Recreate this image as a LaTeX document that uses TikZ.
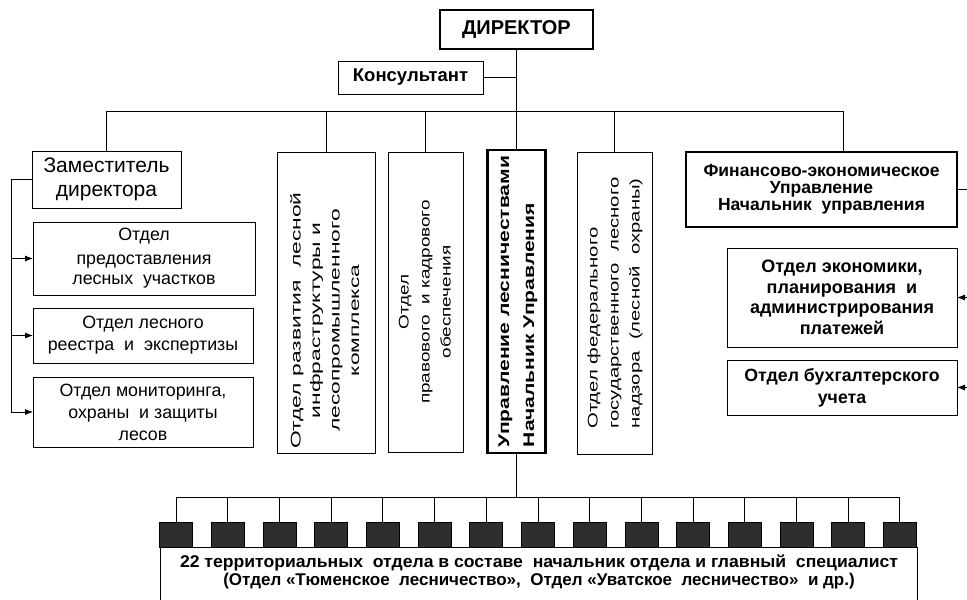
\documentclass[tikz,border=0pt]{standalone}
\usepackage{fontspec}
\setmainfont{Liberation Sans}
\usetikzlibrary{arrows.meta}
\newcommand\myfs[2]{\fontsize{#1}{#2}\selectfont}
% #1 stretch, #2 column spec, #3 shift towards bottom, #4 text
\newcommand\vtext[4]{\rotatebox{90}{\scalebox{#1}[1]{\begin{tabular}{@{}#2@{}}#4\end{tabular}}\hspace*{#3}}}
\begin{document}
\begin{tikzpicture}[x=1pt,y=-1pt,
  box/.style={draw, line width=0.8pt, inner sep=0pt, outer sep=0pt, align=center},
  thickbox/.style={box, line width=2.5pt},
  conn/.style={line width=0.8pt},
  arr/.style={conn, -{Latex[length=8pt,width=6pt]}},
  sq/.style={draw, line width=0.6pt, fill=black!82, minimum width=33pt, minimum height=25pt, inner sep=0pt, outer sep=0pt}]
\useasboundingbox (0,0) rectangle (967,600);
\clip (0,0) rectangle (967,600);

% top level
\node[thickbox, minimum width=153pt, minimum height=39pt, font=\myfs{20}{22}\bfseries] (dir) at (516.5,29.5) {ДИРЕКТОР};
\node[box, minimum width=145pt, minimum height=33pt, font=\myfs{18.5}{20}\bfseries] (kons) at (410.5,77.5) {Консультант};

% second level
\node[box, line width=1pt, minimum width=149pt, minimum height=57pt, font=\myfs{21}{24}] (zam) at (106.5,179.5) {Заместитель\\директора};

\node[box, minimum width=98pt, minimum height=301pt, font=\myfs{14}{19.5}] (v1) at (326,302.5)
  {\vtext{1.63}{c}{36pt}{Отдел развития\ \ лесной\\инфраструктуры и\\лесопромышленного\\комплекса}};
\node[box, minimum width=75pt, minimum height=300pt, font=\myfs{14}{21}] (v2) at (425.5,302)
  {\vtext{1.35}{c}{0pt}{Отдел\\правового\ \ и кадрового\\обеспечения}};
\node[box, line width=2.2pt, minimum width=58pt, minimum height=303pt, font=\myfs{15.5}{25}\bfseries] (v3) at (516.5,301.5)
  {\vtext{1.36}{l}{0pt}{Управление лесничествами\\Начальник Управления}};
\node[box, minimum width=75pt, minimum height=302pt, font=\myfs{14}{21}] (v4) at (614.5,303)
  {\vtext{1.45}{l}{0pt}{Отдел федерального\\государственного\ \ лесного\\надзора\ \ (лесной\ \ охраны)}};

\node[box, line width=2pt, minimum width=271pt, minimum height=75pt, font=\myfs{17.5}{17}\bfseries] (fin) at (821.5,189.5)
  {Финансово-экономическое\\Управление\\Начальник\ \ управления};

% left departments
\node[box, minimum width=222pt, minimum height=73pt, font=\myfs{17.8}{20}] (l1) at (144,258.5) {Отдел\\[4pt]предоставления\\лесных\ \ участков};
\node[box, minimum width=220pt, minimum height=55pt, font=\myfs{17.8}{22}] (l2) at (143,335.5) {Отдел лесного\\реестра\ \ и\ \ экспертизы};
\node[box, minimum width=220pt, minimum height=70pt, font=\myfs{17.8}{22}] (l3) at (143,412) {Отдел мониторинга,\\охраны\ \ и защиты\\лесов};

% right departments
\node[box, minimum width=230pt, minimum height=99pt, font=\myfs{18}{20.5}\bfseries] (r1) at (842,297.5) {Отдел экономики,\\планирования\ \ и\\администрирования\\платежей};
\node[box, minimum width=230pt, minimum height=55pt, font=\myfs{17.7}{22}\bfseries] (r2) at (842,387.5) {Отдел бухгалтерского\\учета};

% bottom
\node[box, minimum width=757pt, minimum height=73pt] (bot) at (538.5,583.5) {};
\node[inner sep=0pt, align=center, font=\myfs{17}{18}\bfseries] (bt) at (539,572)
  {\scalebox{1.035}[1]{22 территориальных\ \ отдела в составе\ \ начальник отдела и главный\ \ специалист}\\
   {(Отдел «Тюменское\ \ лесничество»,\ \ Отдел «Уватское\ \ лесничество»\ \ и др.)}};
\foreach \k in {0,...,14} \node[sq] (s\k) at ({176+51.7*\k},534.5) {};

% connectors: top
\coordinate (tl) at (106.5,111);
\coordinate (tr) at (843,111);
\draw[conn] (tl) -- (tr);
\draw[conn] (dir.south) -- (v3.north);
\draw[conn] (kons.east) -- (kons.east -| dir.south);
\draw[conn] (zam.north) -- (zam.north |- tl);
\draw[conn] (v1.north) -- (v1.north |- tl);
\draw[conn] (v2.north) -- (v2.north |- tl);
\draw[conn] (v4.north) -- (v4.north |- tl);
\draw[conn] (tr) -- (tr |- fin.north);

% left bracket
\coordinate (lx) at (11,0);
\draw[conn] (zam.west) -- (zam.west -| lx) -- (lx |- l3.west);
\foreach \n in {l1,l2,l3} \draw[arr] (lx |- \n.west) -- (\n.west);

% right bracket
\coordinate (rx) at (975,0);
\draw[conn] (fin.east) -- (fin.east -| rx) -- (rx |- r2.east);
\foreach \n in {r1,r2} \draw[arr] (rx |- \n.east) -- (\n.east);

% bottom tree
\coordinate (bl) at (176,497);
\coordinate (br) at (900,497);
\draw[conn] (bl) -- (br);
\draw[conn] (v3.south) -- (v3.south |- bl);
\foreach \k in {0,...,14} \draw[conn] (s\k.north) -- (s\k.north |- bl);
\end{tikzpicture}
\end{document}
